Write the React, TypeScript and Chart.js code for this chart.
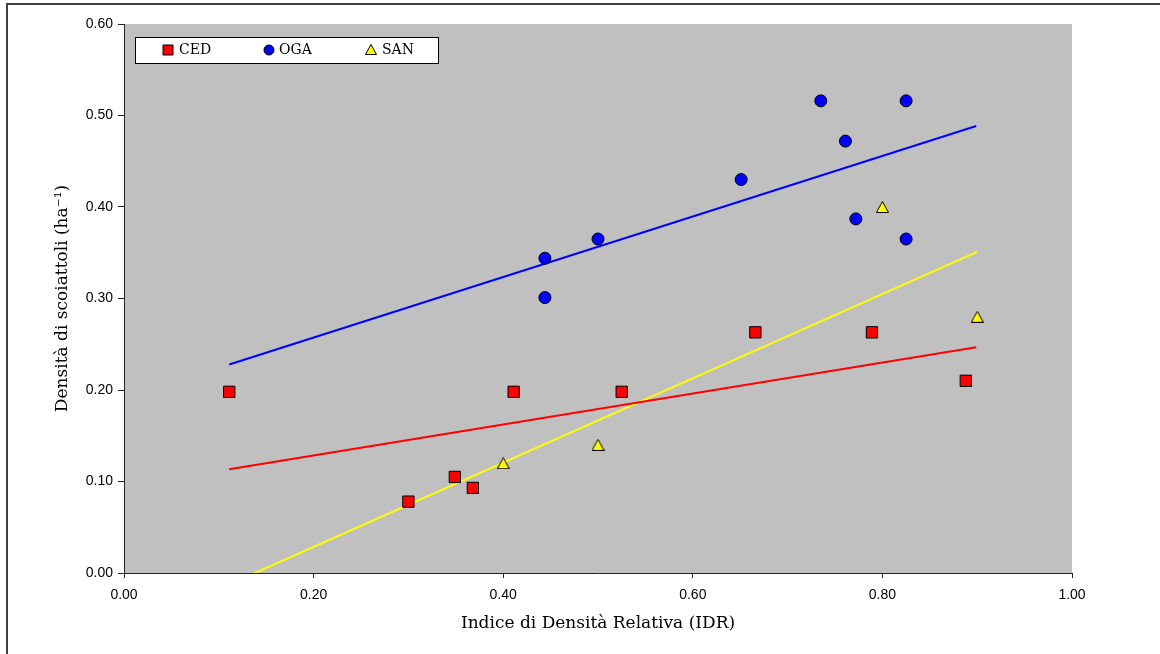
import React, { useEffect, useRef } from "react";
import { Chart, registerables } from "chart.js";

Chart.register(...registerables);

// ---- Data ----
const seriesNames = ["CED", "OGA", "SAN"];

const cedX = [0.111, 0.3, 0.349, 0.368, 0.411, 0.525, 0.666, 0.789, 0.888];
const cedY = [0.198, 0.078, 0.105, 0.093, 0.198, 0.198, 0.263, 0.263, 0.21];

const ogaX = [0.444, 0.444, 0.5, 0.651, 0.735, 0.761, 0.772, 0.825, 0.825];
const ogaY = [0.344, 0.301, 0.365, 0.43, 0.516, 0.472, 0.387, 0.516, 0.365];

const sanX = [0.4, 0.5, 0.8, 0.9];
const sanY = [0.12, 0.14, 0.4, 0.28];

// trend line end points
const cedTrendX = [0.111, 0.899];
const cedTrendY = [0.1133, 0.2467];
const ogaTrendX = [0.111, 0.899];
const ogaTrendY = [0.2279, 0.4885];
const sanTrendX = [0.111, 0.9];
const sanTrendY = [-0.0125, 0.351];

const xTicks = [0, 0.2, 0.4, 0.6, 0.8, 1.0];
const yTicks = [0, 0.1, 0.2, 0.3, 0.4, 0.5, 0.6];

const xTitle = "Indice di Densità Relativa (IDR)";
const yTitle = "Densità di scoiattoli (ha⁻¹)";

const pts = (xs: number[], ys: number[]) => xs.map((x, i) => ({ x, y: ys[i] }));

const serifFont = "'DejaVu Serif', serif";
const sansFont = "'Liberation Sans', Arial, sans-serif";

function makeTriangle(w: number, h: number, fill: string) {
  const c = document.createElement("canvas");
  c.width = w;
  c.height = h;
  const ctx = c.getContext("2d")!;
  ctx.beginPath();
  ctx.moveTo(w / 2, 0.5);
  ctx.lineTo(w - 0.5, h - 0.5);
  ctx.lineTo(0.5, h - 0.5);
  ctx.closePath();
  ctx.fillStyle = fill;
  ctx.fill();
  ctx.strokeStyle = "#000";
  ctx.lineWidth = 1;
  ctx.stroke();
  return c;
}

const bgPlugin = {
  id: "plotBg",
  beforeDraw(chart: any) {
    const { ctx, chartArea } = chart;
    ctx.save();
    ctx.fillStyle = "#C0C0C0";
    ctx.fillRect(chartArea.left, chartArea.top, chartArea.right - chartArea.left, chartArea.bottom - chartArea.top);
    ctx.restore();
  },
};

const legendPlugin = {
  id: "boxLegend",
  afterDraw(chart: any) {
    const { ctx } = chart;
    ctx.save();
    const bx = 135.5, by = 37.5, bw = 303, bh = 26;
    ctx.fillStyle = "#FFFFFF";
    ctx.fillRect(bx, by, bw, bh);
    ctx.strokeStyle = "#000";
    ctx.lineWidth = 1;
    ctx.strokeRect(bx, by, bw, bh);
    const cy = 50;
    const markerX = [168, 269, 371];
    const textX = [179, 279, 382];
    chart.data.datasets.slice(0, 3).forEach((ds: any, i: number) => {
      ctx.fillStyle = ds.backgroundColor;
      ctx.strokeStyle = "#000";
      ctx.lineWidth = 1;
      const mx = markerX[i];
      ctx.beginPath();
      if (ds.pointStyle === "rect") {
        ctx.rect(mx - 5, cy - 5, 10, 10);
      } else if (ds.pointStyle === "circle") {
        ctx.arc(mx, cy, 5, 0, Math.PI * 2);
      } else {
        ctx.moveTo(mx, cy - 5.5);
        ctx.lineTo(mx + 5.5, cy + 4.5);
        ctx.lineTo(mx - 5.5, cy + 4.5);
        ctx.closePath();
      }
      ctx.fill();
      ctx.stroke();
      ctx.fillStyle = "#000";
      ctx.font = `14px ${serifFont}`;
      ctx.textBaseline = "middle";
      ctx.textAlign = "left";
      ctx.fillText(seriesNames[i], textX[i], cy + 0.5);
    });
    ctx.restore();
  },
};

export default function App() {
  const ref = useRef<HTMLCanvasElement | null>(null);

  useEffect(() => {
    if (!ref.current) return;
    const marker = (label: string, xs: number[], ys: number[], color: string, style: any, r: number) => ({
      type: "scatter" as const,
      label,
      data: pts(xs, ys),
      backgroundColor: color,
      borderColor: "#000",
      borderWidth: 1,
      pointStyle: style,
      pointRadius: r,
      pointHoverRadius: r,
      showLine: false,
    });
    const trend = (xs: number[], ys: number[], color: string) => ({
      type: "scatter" as const,
      label: "",
      data: pts(xs, ys),
      borderColor: color,
      backgroundColor: color,
      borderWidth: 2,
      pointRadius: 0,
      showLine: true,
      clip: 0,
    });

    const tri = makeTriangle(13, 12, "#FFFF00");
    const sanDs: any = marker(seriesNames[2], sanX, sanY, "#FFFF00", tri, 6.5);

    const chart = new Chart(ref.current, {
      type: "scatter",
      data: {
        datasets: [
          marker(seriesNames[0], cedX, cedY, "#FF0000", "rect", 8),
          marker(seriesNames[1], ogaX, ogaY, "#0000FF", "circle", 6),
          sanDs,
          trend(cedTrendX, cedTrendY, "#FF0000"),
          trend(ogaTrendX, ogaTrendY, "#0000FF"),
          trend(sanTrendX, sanTrendY, "#FFFF00"),
        ] as any,
      },
      options: {
        animation: false,
        responsive: false,
        devicePixelRatio: 1,
        layout: { padding: { left: 0, top: 24, right: 88, bottom: 0 } },
        plugins: {
          legend: { display: false },
          tooltip: { enabled: false },
        },
        scales: {
          x: {
            type: "linear",
            min: 0,
            max: 1,
            afterFit: (s: any) => {
              s.height = 81;
            },
            afterBuildTicks: (s: any) => {
              s.ticks = xTicks.map((v) => ({ value: v }));
            },
            ticks: {
              callback: (v: any) => Number(v).toFixed(2),
              font: { family: sansFont, size: 14 },
              color: "#000",
              padding: 9,
              maxRotation: 0,
            },
            grid: { drawOnChartArea: false, drawTicks: true, tickLength: 5, color: "#222" },
            border: { display: true, color: "#222", width: 1 },
            title: {
              display: true,
              text: xTitle,
              font: { family: serifFont, size: 17 },
              color: "#000",
              padding: { top: 0, bottom: 20 },
            },
          },
          y: {
            type: "linear",
            min: 0,
            max: 0.6,
            afterFit: (s: any) => {
              s.width = 124;
            },
            afterBuildTicks: (s: any) => {
              s.ticks = yTicks.map((v) => ({ value: v }));
            },
            ticks: {
              callback: (v: any) => Number(v).toFixed(2),
              font: { family: sansFont, size: 14 },
              color: "#000",
              padding: 5,
            },
            grid: { drawOnChartArea: false, drawTicks: true, tickLength: 6, color: "#222" },
            border: { display: true, color: "#222", width: 1 },
            title: {
              display: true,
              text: yTitle,
              font: { family: serifFont, size: 17 },
              color: "#000",
              padding: { top: 52, bottom: 0 },
            },
          },
        },
      },
      plugins: [bgPlugin, legendPlugin],
    });
    return () => chart.destroy();
  }, []);

  return (
    <div
      style={{
        position: "fixed",
        left: 0,
        top: 0,
        width: 1160,
        height: 654,
        overflow: "hidden",
        background: "#FFFFFF",
      }}
    >
      <div
        style={{
          position: "absolute",
          left: 6,
          top: 3,
          width: 1300,
          height: 800,
          border: "2px solid #404040",
          boxSizing: "border-box",
        }}
      />
      <canvas
        ref={ref}
        width={1160}
        height={654}
        style={{ position: "absolute", left: 0, top: 0, width: 1160, height: 654 }}
      />
    </div>
  );
}
